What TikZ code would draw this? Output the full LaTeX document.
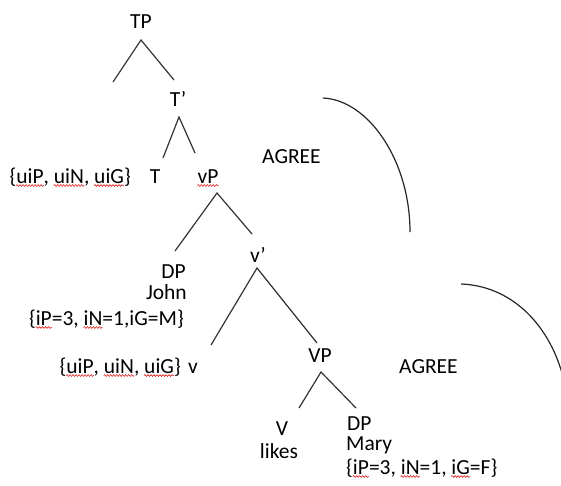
\documentclass[tikz,border=0pt]{standalone}
\usepackage{fontspec}
\setmainfont{Carlito}
\usetikzlibrary{decorations.pathmorphing}
\newcommand{\sq}[1]{\tikz[baseline=(w.base),x=1pt,y=1pt]{\node[inner sep=0pt,anchor=base](w){#1};\draw[overlay,red!85!black,line width=0.5pt,decorate,decoration={snake,segment length=3pt,amplitude=0.9pt}] ([yshift=-2.5pt]w.base west) -- ([yshift=-2.5pt]w.base east);}}
\begin{document}
\begin{tikzpicture}[x=1pt,y=-1pt,
  lbl/.style={inner sep=0pt,anchor=base,font=\fontsize{21.5}{25}\selectfont},
  lblw/.style={lbl,anchor=base west},
  lble/.style={lbl,anchor=base east},
  br/.style={draw=black!80,line width=1.2pt},
  arcline/.style={draw=black!85,line width=1.2pt}]
\useasboundingbox (0,0) rectangle (561,485);
\clip (0,0) rectangle (561,485);
% labels
\node[lbl] (TP) at (141,28) {TP};
\node[lbl] (Tbar) at (178,106) {T’};
\node[lble] (Tf) at (131,183) {\{\sq{uiP}, \sq{uiN}, \sq{uiG}\}};
\node[lbl] (T) at (155,183) {T};
\node[lbl] (vP) at (208,183) {\sq{vP}};
\node[lblw] (agree1) at (262,163) {AGREE};
\node[lbl] (vbar) at (258,262) {v’};
\node[lble] (DP1) at (186,278) {DP};
\node[lble] (John) at (187,299) {John};
\node[lble] (Jf) at (184,325) {\{\sq{iP}=3, \sq{iN}=1,iG=M\}};
\node[lble] (vf) at (181,373) {\{\sq{uiP}, \sq{uiN}, \sq{uiG}\}};
\node[lbl] (v) at (193,373) {v};
\node[lbl] (VP) at (320,362) {VP};
\node[lblw] (agree2) at (399,373) {AGREE};
\node[lbl] (V) at (282,435) {V};
\node[lbl] (likes) at (279,458) {likes};
\node[lblw] (DP2) at (347,430) {DP};
\node[lblw] (Mary) at (346,450) {Mary};
\node[lblw] (Mf) at (346,474) {\{\sq{iP}=3, \sq{iN}=1, \sq{iG}=F\}};
% branch points
\coordinate (tp-a) at (141,40);
\coordinate (tp-l) at (113,82);
\coordinate (tp-r) at (174,80);
\coordinate (tb-a) at (179,117);
\coordinate (tb-l) at (163,158);
\coordinate (tb-r) at (195,153);
\coordinate (vp-a) at (217,193);
\coordinate (vp-l) at (175,251);
\coordinate (vp-r) at (252,234);
\coordinate (vb-a) at (257,268);
\coordinate (vb-l) at (211,345);
\coordinate (vb-r) at (317,343);
\coordinate (VP-a) at (321,372);
\coordinate (VP-l) at (299,408);
\coordinate (VP-r) at (356,408);
\draw[br] (tp-l) -- (tp-a) -- (tp-r);
\draw[br] (tb-l) -- (tb-a) -- (tb-r);
\draw[br] (vp-l) -- (vp-a) -- (vp-r);
\draw[br] (vb-l) -- (vb-a) -- (vb-r);
\draw[br] (VP-l) -- (VP-a) -- (VP-r);
% agree arcs
\coordinate (a1s) at (323,98);
\coordinate (a1e) at (410,232);
\coordinate (a2s) at (461,284);
\coordinate (a2e) at (566,390);
\draw[arcline] (a1s) .. controls (368,100) and (410,160) .. (a1e);
\draw[arcline] (a2s) .. controls (515,286) and (555,330) .. (a2e);
\end{tikzpicture}
\end{document}
